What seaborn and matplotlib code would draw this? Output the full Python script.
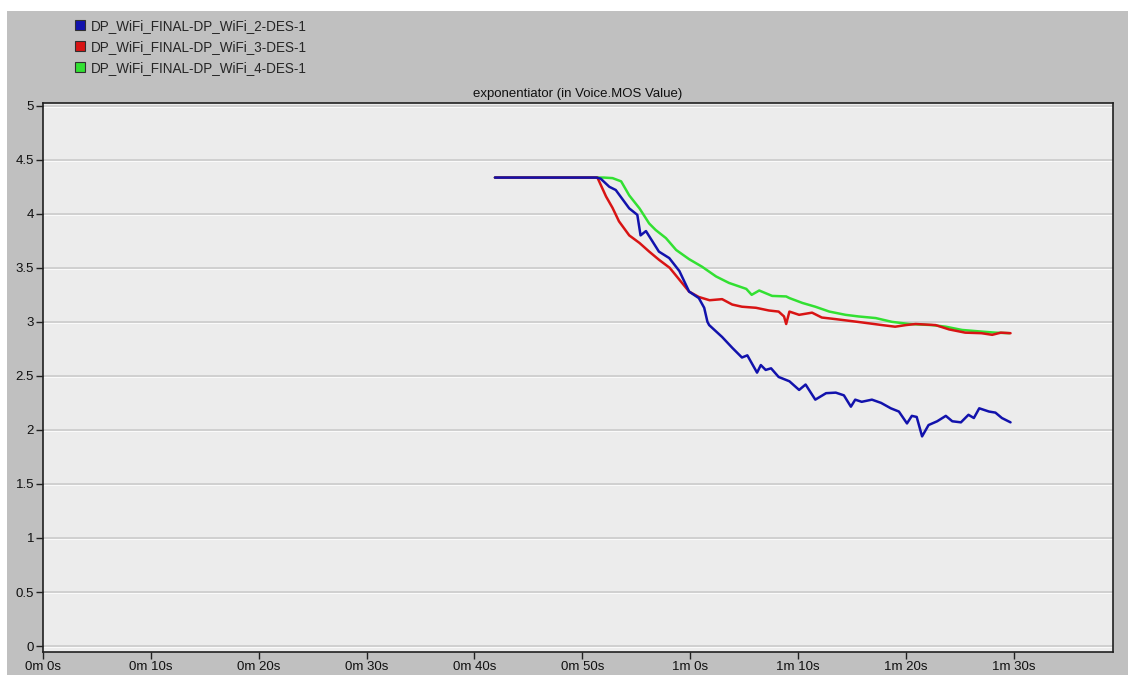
import matplotlib
matplotlib.use("Agg")
import matplotlib.pyplot as plt
from matplotlib.lines import Line2D
from matplotlib.patches import Rectangle
import seaborn as sns

# series (time in seconds, MOS value)
blue_t = [41.9, 51.3, 51.7, 52.5, 53.1, 54.35, 55.1, 55.4, 55.9, 57.1, 58.06, 59.0, 59.9,
          60.8, 61.3, 61.6, 61.76, 62.96, 63.9, 64.8, 65.3, 66.2, 66.55, 67.0, 67.5,
          68.2, 69.2, 70.1, 70.7, 71.6, 72.6, 73.5, 74.25, 74.9, 75.3, 75.9, 76.85,
          77.7, 78.6, 79.35, 80.1, 80.55, 81.0, 81.5, 82.1, 82.9, 83.7, 84.3, 85.1,
          85.8, 86.3, 86.8, 87.7, 88.3, 88.9, 89.7]
blue_v = [4.335, 4.335, 4.325, 4.25, 4.22, 4.05, 3.99, 3.80, 3.84, 3.65, 3.59, 3.47, 3.28,
          3.22, 3.13, 3.00, 2.97, 2.86, 2.76, 2.67, 2.69, 2.53, 2.60, 2.555, 2.57,
          2.49, 2.45, 2.37, 2.42, 2.28, 2.34, 2.345, 2.32, 2.215, 2.28, 2.26, 2.28,
          2.25, 2.20, 2.17, 2.06, 2.13, 2.12, 1.94, 2.045, 2.08, 2.13, 2.08, 2.07,
          2.14, 2.11, 2.20, 2.17, 2.16, 2.11, 2.07]

red_t = [41.9, 51.4, 52.2, 52.8, 53.4, 54.35, 55.3, 56.2, 57.1, 58.1, 59.0, 59.9, 60.8,
         61.8, 62.96, 63.9, 64.8, 66.1, 67.3, 68.2, 68.7, 68.9, 69.2, 70.1, 71.3,
         72.2, 73.5, 74.7, 75.9, 77.8, 79.0, 80.0, 80.9, 82.75, 84.0, 85.5, 87.0,
         88.0, 88.8, 89.7]
red_v = [4.335, 4.335, 4.16, 4.055, 3.93, 3.80, 3.73, 3.65, 3.575, 3.50, 3.39, 3.28, 3.23,
         3.20, 3.21, 3.16, 3.14, 3.13, 3.105, 3.095, 3.05, 2.98, 3.095, 3.065, 3.085,
         3.04, 3.025, 3.01, 2.995, 2.97, 2.955, 2.97, 2.98, 2.97, 2.93, 2.90, 2.895,
         2.88, 2.90, 2.895]

green_t = [41.9, 52.0, 52.8, 53.6, 54.35, 55.3, 56.2, 56.8, 57.75, 58.7, 59.9, 61.1, 62.4,
           63.6, 65.2, 65.7, 66.4, 67.6, 68.9, 69.2, 70.4, 71.6, 72.9, 74.4, 75.6,
           77.2, 78.7, 80.3, 82.4, 83.7, 85.2, 87.0, 88.3, 89.6]
green_v = [4.335, 4.335, 4.33, 4.30, 4.17, 4.05, 3.91, 3.85, 3.775, 3.665, 3.58, 3.51, 3.42,
           3.36, 3.305, 3.25, 3.29, 3.24, 3.235, 3.22, 3.175, 3.14, 3.095, 3.065, 3.05,
           3.035, 3.00, 2.98, 2.97, 2.955, 2.925, 2.91, 2.90, 2.895]

series_names = ["DP_WiFi_FINAL-DP_WiFi_2-DES-1",
                "DP_WiFi_FINAL-DP_WiFi_3-DES-1",
                "DP_WiFi_FINAL-DP_WiFi_4-DES-1"]
series_colors = ["#1212ac", "#d81414", "#32e032"]

x_ticks = [0, 10, 20, 30, 40, 50, 60, 70, 80, 90]
x_tick_labels = ["0m 0s", "0m 10s", "0m 20s", "0m 30s", "0m 40s", "0m 50s",
                 "1m 0s", "1m 10s", "1m 20s", "1m 30s"]
y_ticks = [0, 0.5, 1, 1.5, 2, 2.5, 3, 3.5, 4, 4.5, 5]
y_tick_labels = ["0", "0.5", "1", "1.5", "2", "2.5", "3", "3.5", "4", "4.5", "5"]

title = "exponentiator (in Voice.MOS Value)"


def main():
    sns.set_style("white")
    plt.rcParams['font.family'] = ['Liberation Sans', 'DejaVu Sans']

    fig = plt.figure(figsize=(11.28, 6.75), dpi=100)
    fig.patch.set_facecolor("white")
    fig.patches.append(Rectangle((7 / 1128, 0), 1, 1 - 11 / 675, transform=fig.transFigure,
                                 facecolor="#c0c0c0", edgecolor="none", zorder=-10))

    ax = fig.add_axes([43 / 1128, 1 - 652 / 675, (1113 - 43) / 1128, (652 - 103) / 675])
    ax.set_facecolor("#ececec")

    # draw order: green under red under blue
    sns.lineplot(x=green_t, y=green_v, color=series_colors[2], lw=1.8, ax=ax, sort=False)
    sns.lineplot(x=red_t, y=red_v, color=series_colors[1], lw=1.8, ax=ax, sort=False)
    sns.lineplot(x=blue_t, y=blue_v, color=series_colors[0], lw=1.8, ax=ax, sort=False)

    ax.set_xlim(0, 99.2)
    ax.set_ylim(-0.055, 5.025)
    ax.set_xticks(x_ticks)
    ax.set_xticklabels(x_tick_labels)
    ax.set_yticks(y_ticks)
    ax.set_yticklabels(y_tick_labels)
    ax.set_xlabel("")
    ax.set_ylabel("")

    for y in y_ticks:
        ax.axhline(y, color="#cdcdcd", lw=1.3, zorder=0.5)
        ax.axhline(y - 0.012, color="#fafafa", lw=0.8, zorder=0.4)

    for sp in ax.spines.values():
        sp.set_color("#202020")
        sp.set_linewidth(1.2)

    ax.tick_params(axis="both", direction="out", length=5, width=1, color="#202020",
                   labelsize=9.5, labelcolor="#101010", pad=1.5)
    ax.tick_params(axis="x", bottom=True)
    ax.tick_params(axis="y", left=True)

    ax.set_title(title, fontsize=9.5, pad=4, color="#101010")

    handles = [Line2D([], [], marker="s", linestyle="none", markersize=7.5,
                      markerfacecolor=c, markeredgecolor="#303030", markeredgewidth=0.8)
               for c in series_colors]
    fig.legend(handles, series_names, loc="upper left",
               bbox_to_anchor=(75 / 1128, 1 - 19 / 675), frameon=False,
               fontsize=9.75, handlelength=0.8, handletextpad=0.4,
               labelspacing=0.5, borderpad=0, borderaxespad=0)

    fig.savefig("out.png", dpi=100, facecolor=fig.get_facecolor())


if __name__ == "__main__":
    main()
